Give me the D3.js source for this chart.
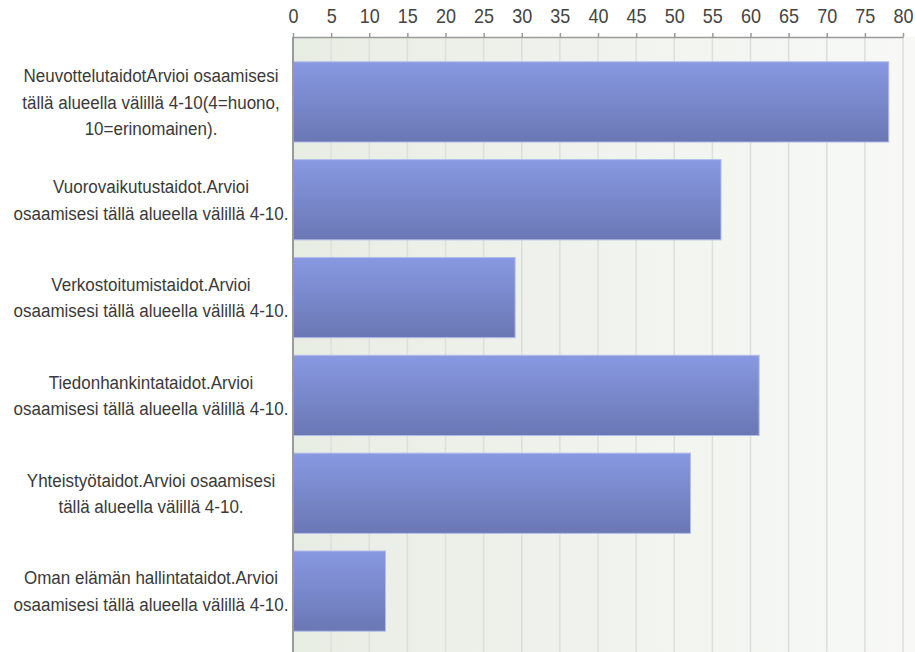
<!DOCTYPE html>
<html><head><meta charset="utf-8">
<script src="https://cdn.jsdelivr.net/npm/d3@7"></script>
<style>body{margin:0;background:#fff;} svg{display:block;}</style>
</head><body>
<svg id="chart" width="915" height="652"></svg>
<script>
const categories = [
  "NeuvottelutaidotArvioi osaamisesi tällä alueella välillä 4-10(4=huono, 10=erinomainen).",
  "Vuorovaikutustaidot.Arvioi osaamisesi tällä alueella välillä 4-10.",
  "Verkostoitumistaidot.Arvioi osaamisesi tällä alueella välillä 4-10.",
  "Tiedonhankintataidot.Arvioi osaamisesi tällä alueella välillä 4-10.",
  "Yhteistyötaidot.Arvioi osaamisesi tällä alueella välillä 4-10.",
  "Oman elämän hallintataidot.Arvioi osaamisesi tällä alueella välillä 4-10."
];
const labelLines = [
  ["NeuvottelutaidotArvioi osaamisesi", "tällä alueella välillä 4-10(4=huono,", "10=erinomainen)."],
  ["Vuorovaikutustaidot.Arvioi", "osaamisesi tällä alueella välillä 4-10."],
  ["Verkostoitumistaidot.Arvioi", "osaamisesi tällä alueella välillä 4-10."],
  ["Tiedonhankintataidot.Arvioi", "osaamisesi tällä alueella välillä 4-10."],
  ["Yhteistyötaidot.Arvioi osaamisesi", "tällä alueella välillä 4-10."],
  ["Oman elämän hallintataidot.Arvioi", "osaamisesi tällä alueella välillä 4-10."]
];
const values = [78, 56, 29, 61, 52, 12];
const xTicks = [0, 5, 10, 15, 20, 25, 30, 35, 40, 45, 50, 55, 60, 65, 70, 75, 80];

const W = 915, H = 652;
const plotLeft = 293, plotTop = 37;
const svg = d3.select("#chart");
const defs = svg.append("defs");

const bgGrad = defs.append("linearGradient").attr("id", "bgGrad")
  .attr("x1", 0).attr("y1", 0).attr("x2", 1).attr("y2", 0);
bgGrad.append("stop").attr("offset", "0%").attr("stop-color", "#e8ede4");
bgGrad.append("stop").attr("offset", "100%").attr("stop-color", "#f8f9f7");

const barGrad = defs.append("linearGradient").attr("id", "barGrad")
  .attr("x1", 0).attr("y1", 0).attr("x2", 0).attr("y2", 1);
barGrad.append("stop").attr("offset", "0%").attr("stop-color", "#8899e2");
barGrad.append("stop").attr("offset", "100%").attr("stop-color", "#6a77b4");

const x = d3.scaleLinear().domain([0, 80]).range([plotLeft, 903]);
const y = d3.scaleBand().domain(categories).range([53, 640])
  .paddingInner(0.18).paddingOuter(0.09);

// plot background
svg.append("rect").attr("x", plotLeft).attr("y", plotTop)
  .attr("width", W - plotLeft).attr("height", H - plotTop)
  .attr("fill", "url(#bgGrad)");

// grid lines
svg.append("g").selectAll("line").data(xTicks.filter(d => d > 0)).join("line")
  .attr("x1", d => x(d)).attr("x2", d => x(d))
  .attr("y1", plotTop).attr("y2", H)
  .attr("stroke", "#dcdfdb").attr("stroke-width", 1.5);

// bars
svg.append("g").selectAll("rect").data(values).join("rect")
  .attr("x", x(0))
  .attr("y", (d, i) => y(categories[i]))
  .attr("width", d => x(d) - x(0) + 1)
  .attr("height", y.bandwidth())
  .attr("fill", "url(#barGrad)")
  .attr("stroke", "#b2bde9").attr("stroke-width", 1);

// left axis line
svg.append("line").attr("x1", plotLeft).attr("x2", plotLeft)
  .attr("y1", plotTop).attr("y2", H)
  .attr("stroke", "#9a9a9a").attr("stroke-width", 2);

// top axis
const axis = svg.append("g").attr("transform", `translate(0,${plotTop})`)
  .call(d3.axisTop(x).tickValues(xTicks).tickSize(4).tickPadding(10).tickSizeOuter(0));
axis.select(".domain").attr("stroke", "#9a9a9a").attr("stroke-width", 1.5);
axis.selectAll(".tick line").attr("stroke", "#9a9a9a").attr("stroke-width", 1.5);
axis.selectAll(".tick text")
  .attr("font-family", "'Liberation Sans', Arial, sans-serif")
  .attr("font-size", 20).attr("fill", "#444")
  .attr("transform", "scale(0.9,1)");

// category labels
const lh = 26.5;
const lg = svg.append("g")
  .attr("font-family", "'Liberation Sans', Arial, sans-serif")
  .attr("font-size", 19).attr("fill", "#3a3a3a").attr("text-anchor", "middle");
categories.forEach((c, i) => {
  const cy = y(c) + y.bandwidth() / 2;
  const lines = labelLines[i];
  const t = lg.append("text").attr("transform", "translate(151,0) scale(0.895,1)");
  lines.forEach((ln, j) => {
    t.append("tspan").attr("x", 0)
      .attr("y", cy + (j - (lines.length - 1) / 2) * lh)
      .attr("dy", "0.35em").text(ln);
  });
});
</script>
</body></html>
